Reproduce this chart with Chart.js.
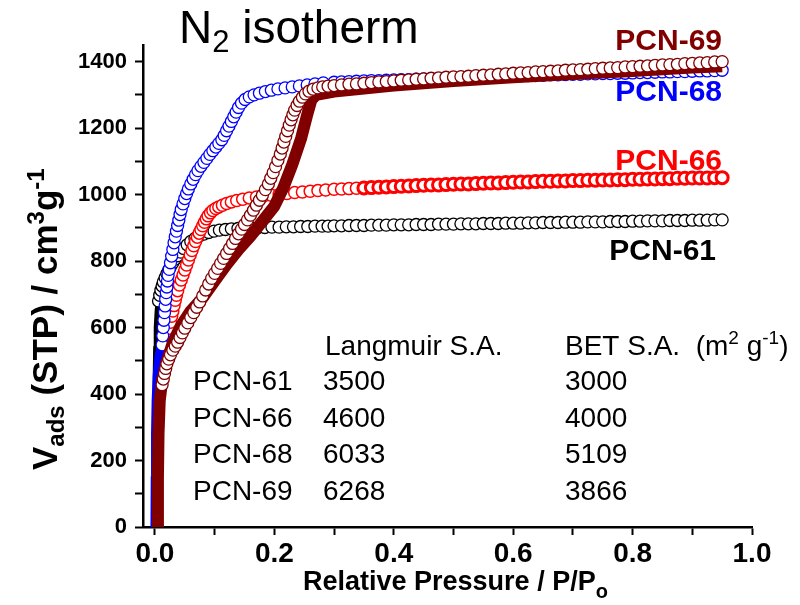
<!DOCTYPE html>
<html>
<head>
<meta charset="utf-8">
<script src="https://cdn.jsdelivr.net/npm/chart.js@4.4.1/dist/chart.umd.min.js"></script>
<style>
  html, body { margin: 0; padding: 0; background: #fff; }
  #wrap { width: 800px; height: 605px; }
</style>
</head>
<body>
<div id="wrap"><canvas id="chart" width="800" height="605"></canvas></div>
<script>
// axis ticks
const X_TICKS = [0, 0.1, 0.2, 0.3, 0.4, 0.5, 0.6, 0.7, 0.8, 0.9, 1.0];
const Y_TICKS = [0, 100, 200, 300, 400, 500, 600, 700, 800, 900, 1000, 1100, 1200, 1300, 1400];

// sample names, colours and surface areas
const NAMES = ['PCN-61', 'PCN-66', 'PCN-68', 'PCN-69'];
const COLORS = ['#000000', '#ff0000', '#0000ff', '#800000'];
const LANGMUIR = [3500, 4600, 6033, 6268];
const BET = [3000, 4000, 5109, 3866];

// shared relative pressure grid for the plateau part
const PLATEAU_P = [0.3, 0.3125, 0.325, 0.3375, 0.35, 0.3625, 0.375, 0.3875, 0.4, 0.4125, 0.425, 0.4375,
  0.45, 0.4625, 0.475, 0.4875, 0.5, 0.5125, 0.525, 0.5375, 0.55, 0.5625, 0.575, 0.5875, 0.6, 0.6125,
  0.625, 0.6375, 0.65, 0.6625, 0.675, 0.6875, 0.7, 0.7125, 0.725, 0.7375, 0.75, 0.7625, 0.775, 0.7875,
  0.8, 0.8125, 0.825, 0.8375, 0.85, 0.8625, 0.875, 0.8875, 0.9, 0.9125, 0.925, 0.9375, 0.95];

// PCN-61
const P61_LOW = [0, 0.0005, 0.001, 0.002, 0.003, 0.0045, 0.006];
const V61_LOW = [0, 260, 420, 540, 600, 650, 680];
const P61_KNEE = [0.006, 0.008, 0.01, 0.012, 0.014, 0.017, 0.02, 0.023, 0.026, 0.03, 0.034, 0.038, 0.043,
  0.048, 0.054, 0.06, 0.067, 0.074, 0.082, 0.09, 0.099, 0.108, 0.118, 0.128, 0.139, 0.15, 0.161, 0.172,
  0.184, 0.196, 0.208, 0.22, 0.232, 0.244, 0.256, 0.268, 0.28, 0.29];
const V61_KNEE = [680, 697, 712, 725, 737, 750, 762, 773, 783, 795, 806, 816, 827,
  838, 849, 859, 868, 875, 881, 886, 890, 893, 895, 897, 898, 899, 900, 900,
  901, 902, 902, 903, 903, 904, 904, 905, 905, 905];
const V61_PLAT = [906, 906, 907, 907, 907, 908, 908, 908, 909, 909, 909, 910, 910, 910, 911, 911, 911,
  912, 912, 912, 913, 913, 913, 914, 914, 914, 915, 915, 916, 916, 916, 917, 917, 917, 918, 918, 918,
  919, 919, 919, 920, 920, 921, 921, 921, 922, 922, 922, 923, 923, 923, 924, 924];

// PCN-66
const P66_LOW = [0, 0.001, 0.003, 0.006, 0.01, 0.015, 0.02];
const V66_LOW = [0, 200, 350, 430, 480, 525, 560];
const P66_KNEE = [0.02, 0.022, 0.024, 0.026, 0.028, 0.03, 0.032, 0.034, 0.036, 0.038, 0.041, 0.044, 0.047,
  0.05, 0.053, 0.056, 0.059, 0.062, 0.065, 0.068, 0.071, 0.074, 0.077, 0.08, 0.083, 0.086, 0.089, 0.093,
  0.097, 0.102, 0.107, 0.113, 0.12, 0.128, 0.137, 0.147, 0.158, 0.17, 0.182, 0.195, 0.208, 0.221, 0.234,
  0.247, 0.26, 0.273, 0.286];
const V66_KNEE = [560, 580, 598, 616, 634, 650, 666, 682, 697, 711, 728, 743, 758,
  773, 788, 803, 818, 832, 846, 859, 872, 884, 895, 906, 917, 927, 936, 945,
  952, 958, 963, 968, 973, 978, 982, 986, 990, 993, 996, 998, 1000, 1003, 1006,
  1008, 1010, 1012, 1014];
const V66_PLAT = [1016, 1017, 1018, 1019, 1020, 1021, 1022, 1023, 1024, 1025, 1026, 1027, 1028,
  1029, 1029, 1030, 1031, 1032, 1032, 1033, 1034, 1035, 1035, 1036, 1037, 1038, 1038, 1039, 1040,
  1040, 1041, 1041, 1042, 1042, 1043, 1043, 1044, 1044, 1045, 1045, 1046, 1046, 1047, 1047, 1048,
  1048, 1049, 1049, 1050, 1050, 1050, 1051, 1051];

// PCN-68
const P68_LOW = [0, 0.0005, 0.001, 0.002, 0.004, 0.007, 0.01, 0.012];
const V68_LOW = [0, 150, 280, 380, 460, 515, 540, 548];
const P68_KNEE = [0.012, 0.013, 0.014, 0.015, 0.016, 0.017, 0.018, 0.019, 0.02, 0.021, 0.022, 0.024, 0.026,
  0.028, 0.03, 0.032, 0.034, 0.036, 0.038, 0.04, 0.042, 0.044, 0.047, 0.05, 0.053, 0.056, 0.06, 0.064,
  0.068, 0.072, 0.077, 0.082, 0.087, 0.092, 0.097, 0.102, 0.107, 0.112, 0.116, 0.12, 0.124, 0.128, 0.132,
  0.136, 0.14, 0.145, 0.151, 0.158, 0.166, 0.175, 0.185, 0.195, 0.206, 0.218, 0.23, 0.242, 0.255, 0.268,
  0.282];
const V68_KNEE = [548, 575, 600, 622, 645, 665, 685, 705, 722, 740, 757, 775, 795,
  815, 835, 855, 873, 890, 907, 923, 940, 955, 972, 988, 1003, 1017, 1032, 1046,
  1060, 1072, 1085, 1097, 1109, 1121, 1132, 1143, 1154, 1165, 1178, 1192, 1206, 1220, 1234,
  1248, 1262, 1275, 1286, 1294, 1300, 1305, 1310, 1314, 1318, 1321, 1324, 1327, 1330, 1333,
  1336];
const V68_PLAT = [1338, 1339, 1340, 1341, 1342, 1343, 1343, 1344, 1345, 1346, 1346, 1347, 1348,
  1349, 1349, 1350, 1351, 1352, 1352, 1353, 1354, 1355, 1355, 1356, 1357, 1357, 1358, 1358, 1359,
  1360, 1360, 1361, 1362, 1362, 1363, 1363, 1364, 1364, 1365, 1365, 1366, 1367, 1367, 1368, 1369,
  1369, 1370, 1370, 1371, 1372, 1372, 1373, 1374];

// PCN-69: dense branch (reads as a solid band) and open-circle branch
const P69_BAND = [0.004, 0.005, 0.006, 0.008, 0.012, 0.02, 0.03, 0.045, 0.06, 0.08, 0.1, 0.12, 0.14, 0.16,
  0.18, 0.2, 0.215, 0.23, 0.245, 0.255, 0.262, 0.27, 0.3, 0.4, 0.5, 0.6, 0.7, 0.8, 0.9, 0.95];
const V69_BAND = [0, 150, 280, 380, 440, 500, 555, 610, 650, 690, 740, 790, 835, 875,
  920, 965, 1020, 1090, 1170, 1240, 1285, 1300, 1310, 1328, 1342, 1353, 1363, 1372, 1382, 1386];
const P69_KNEE = [0.012, 0.014, 0.016, 0.018, 0.02, 0.023, 0.026, 0.03, 0.034, 0.038, 0.042, 0.046, 0.05,
  0.055, 0.06, 0.065, 0.07, 0.075, 0.08, 0.085, 0.09, 0.095, 0.1, 0.105, 0.11, 0.115, 0.12, 0.125,
  0.13, 0.135, 0.14, 0.145, 0.15, 0.155, 0.16, 0.165, 0.17, 0.175, 0.18, 0.185, 0.19, 0.194, 0.198,
  0.202, 0.206, 0.21, 0.213, 0.216, 0.219, 0.222, 0.225, 0.228, 0.231, 0.234, 0.238, 0.242, 0.247,
  0.252, 0.258, 0.265, 0.273, 0.281, 0.29];
const V69_KNEE = [428, 445, 462, 477, 491, 505, 518, 532, 544, 556, 570, 584, 598,
  614, 630, 645, 661, 677, 695, 713, 731, 748, 763, 778, 793, 808, 823, 838,
  853, 868, 882, 896, 910, 924, 938, 953, 968, 983, 998, 1015, 1032, 1049, 1066,
  1084, 1103, 1122, 1140, 1158, 1175, 1192, 1209, 1225, 1240, 1254, 1268, 1281, 1293,
  1303, 1311, 1317, 1321, 1324, 1326];
const V69_PLAT = [1328, 1330, 1332, 1333, 1335, 1337, 1339, 1340, 1342, 1344, 1345, 1347, 1348,
  1350, 1351, 1353, 1354, 1355, 1356, 1358, 1359, 1360, 1362, 1363, 1365, 1366, 1367, 1369, 1370,
  1371, 1372, 1374, 1375, 1376, 1377, 1379, 1380, 1381, 1382, 1384, 1385, 1386, 1387, 1389, 1390,
  1391, 1392, 1394, 1395, 1396, 1397, 1399, 1400];

const FONT = 'Liberation Sans, Arial, Helvetica, sans-serif';

function pts(px, py) {
  return px.map((x, i) => ({ x: x, y: py[i] }));
}

function circles(label, color, px, py, bw) {
  return {
    label: label,
    data: pts(px, py),
    showLine: false,
    pointRadius: 6,
    pointBorderWidth: bw || 1.3,
    pointBorderColor: color,
    pointBackgroundColor: '#ffffff',
  };
}

function band(label, color, px, py, width) {
  return {
    label: label,
    data: pts(px, py),
    showLine: true,
    borderColor: color,
    borderWidth: width,
    borderJoinStyle: 'round',
    pointRadius: 0,
  };
}

// text with sub/superscripts: parts = [text, size, shift]
function richText(ctx, parts, x, y, weight) {
  let cx = x;
  parts.forEach(([t, size, dy]) => {
    ctx.font = weight + ' ' + size + 'px ' + FONT;
    ctx.fillText(t, cx, y + (dy || 0));
    cx += ctx.measureText(t).width;
  });
}

const textPlugin = {
  id: 'textPlugin',
  afterDraw(chart) {
    const ctx = chart.ctx;
    ctx.save();
    ctx.textBaseline = 'alphabetic';
    ctx.fillStyle = '#000';

    // title
    richText(ctx, [['N', 46], ['2', 31, 9], [' isotherm', 46]], 179, 43, 'normal');

    // x axis title
    richText(ctx, [['Relative Pressure / P/P', 27], ['o', 20, 8]], 303, 590, 'bold');

    // y axis title
    ctx.save();
    ctx.translate(57, 470);
    ctx.rotate(-Math.PI / 2);
    richText(ctx, [['V', 35], ['ads', 24, 7], [' (STP) / cm', 35], ['3', 24, -13], ['g', 35], ['-1', 24, -13]], 0, 0, 'bold');
    ctx.restore();

    // sample labels at right
    const labelY = [260, 170, 101, 50];
    ctx.textAlign = 'right';
    ctx.font = 'bold 30px ' + FONT;
    NAMES.forEach((n, i) => {
      ctx.fillStyle = COLORS[i];
      ctx.fillText(n, i === 0 ? 716 : 722, labelY[i]);
    });

    // surface area table
    ctx.textAlign = 'left';
    ctx.fillStyle = '#000';
    ctx.font = '28px ' + FONT;
    ctx.fillText('Langmuir S.A.', 325, 355);
    richText(ctx, [['BET S.A.  (m', 28], ['2', 19, -11], [' g', 28], ['-1', 19, -11], [')', 28]], 565, 355, 'normal');
    ctx.font = '28px ' + FONT;
    NAMES.forEach((n, i) => {
      const y = 390 + i * 36.5;
      ctx.fillText(n, 193, y);
      ctx.fillText(String(LANGMUIR[i]), 323, y);
      ctx.fillText(String(BET[i]), 565, y);
    });
    ctx.restore();
  }
};

// PCN-66: thin outline on the knee, heavy outline along the plateau
const redCircles = circles('PCN-66', COLORS[1], P66_KNEE.concat(PLATEAU_P), V66_KNEE.concat(V66_PLAT));
redCircles.pointBorderWidth = (c) => (c.dataIndex < P66_KNEE.length + 4 ? 1.5 : 3);

const ctx = document.getElementById('chart').getContext('2d');
new Chart(ctx, {
  type: 'scatter',
  data: {
    datasets: [
      circles('PCN-69', COLORS[3], P69_KNEE.concat(PLATEAU_P), V69_KNEE.concat(V69_PLAT)),
      band('PCN-69 band', COLORS[3], P69_BAND, V69_BAND, 12),
      circles('PCN-68', COLORS[2], P68_KNEE.concat(PLATEAU_P), V68_KNEE.concat(V68_PLAT)),
      band('PCN-68 low', COLORS[2], P68_LOW, V68_LOW, 9),
      redCircles,
      band('PCN-66 low', COLORS[1], P66_LOW, V66_LOW, 5),
      circles('PCN-61', COLORS[0], P61_KNEE.concat(PLATEAU_P), V61_KNEE.concat(V61_PLAT)),
      band('PCN-61 low', COLORS[0], P61_LOW, V61_LOW, 6),
    ]
  },
  options: {
    responsive: false,
    animation: false,
    layout: { padding: { left: 0, top: 45, right: 48, bottom: 0 } },
    plugins: {
      legend: { display: false },
      tooltip: { enabled: false },
    },
    scales: {
      x: {
        type: 'linear',
        min: -0.02,
        max: 1.0,
        afterFit: (scale) => { scale.height = 78; },
        afterBuildTicks: (scale) => { scale.ticks = X_TICKS.map(v => ({ value: v })); },
        border: { display: true, color: '#000', width: 2.5 },
        grid: { drawOnChartArea: false, drawTicks: true, tickLength: 8, tickWidth: 2, tickColor: '#000' },
        ticks: {
          padding: 2,
          color: '#000',
          maxRotation: 0,
          autoSkip: false,
          font: { family: FONT, size: 28, weight: 'bold' },
          callback: (v) => (Math.round(v * 10) % 2 === 0 ? v.toFixed(1) : ''),
        },
      },
      y: {
        type: 'linear',
        min: 0,
        max: 1450,
        afterFit: (scale) => { scale.width = 143; },
        afterBuildTicks: (scale) => { scale.ticks = Y_TICKS.map(v => ({ value: v })); },
        border: { display: true, color: '#000', width: 2.5 },
        grid: { drawOnChartArea: false, drawTicks: true, tickLength: 8, tickWidth: 2, tickColor: '#000' },
        ticks: {
          padding: 8,
          color: '#000',
          autoSkip: false,
          font: { family: FONT, size: 22, weight: 'bold' },
          callback: (v) => (v % 200 === 0 ? String(v) : ''),
        },
      },
    },
  },
  plugins: [textPlugin],
});
</script>
</body>
</html>
